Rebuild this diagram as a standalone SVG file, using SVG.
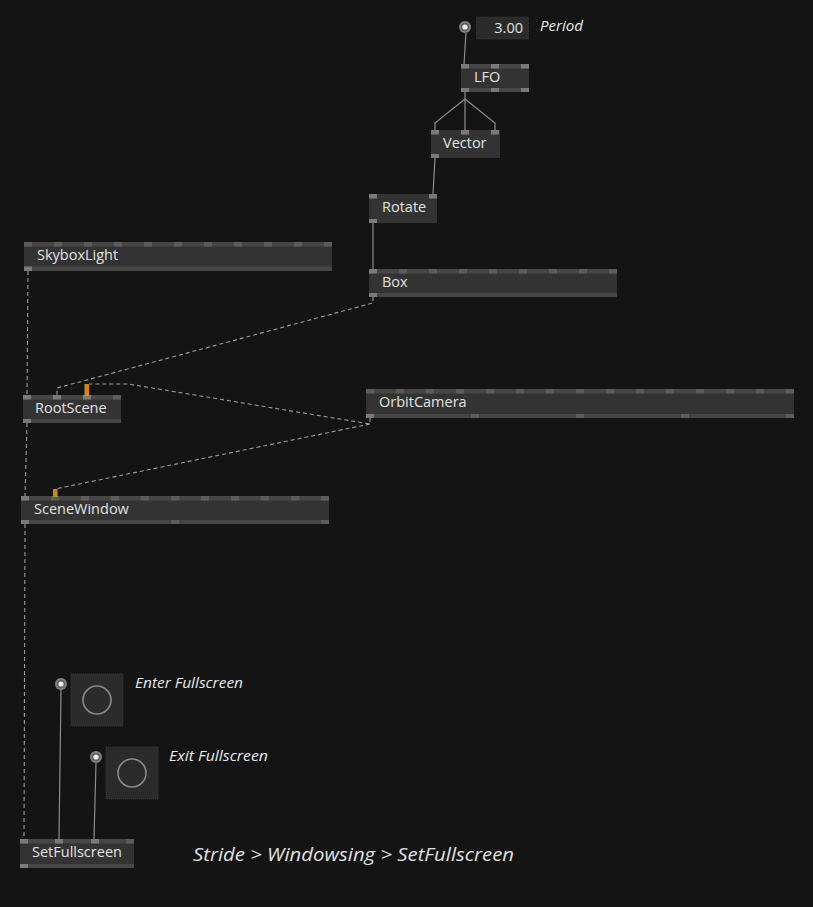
<svg xmlns="http://www.w3.org/2000/svg" width="813" height="907" viewBox="0 0 813 907">
<style>
.bg{fill:#141414}
.body{fill:#333333}
.strip{fill:#464646}
.pin{fill:#5c5c5c}
.pinc{fill:#7a7a7a}
.orange{fill:#d08a10}
.lbl{font-family:"Open Sans","Noto Sans",sans-serif;font-size:14.5px;fill:#e2e2e2}
.cmt{font-family:"Open Sans","Noto Sans",sans-serif;font-style:italic;font-size:15px;fill:#e8e8e8}
.title{font-family:"Open Sans","Noto Sans",sans-serif;font-style:italic;font-size:19px;fill:#e0e0e0}
.val{font-family:"Open Sans","Noto Sans",sans-serif;font-size:14.5px;fill:#e2e2e2}
.link{fill:none;stroke:#8c8c8c;stroke-width:1.2}
.dash{fill:none;stroke:#9a9a9a;stroke-width:1.1;stroke-dasharray:4 3}
.iobox{fill:#2b2b2b;stroke:#3a3a3a;stroke-width:1;stroke-dasharray:1 1}
.btn{fill:none;stroke:#8a8a8a;stroke-width:1.6}
.pout{fill:#808080}
.pmid{fill:#5a5a5a}
.pin-in{fill:#eeeeee}
</style>
<rect class="bg" x="0" y="0" width="813" height="907"/>

<g id="connectors">
  <path class="link" d="M466,33 L464,64"/>
  <path class="link" d="M465,92 L465,99 L435,123 L435,130"/>
  <path class="link" d="M465,99 L465,130"/>
  <path class="link" d="M465,99 L495,123 L495,130"/>
  <path class="link" d="M435,158 L433,194"/>
  <path class="link" d="M373,223 L373,269"/>
  <path class="link" d="M61,690 L59,839"/>
  <path class="link" d="M96,763 L94,839"/>
  <path class="dash" d="M28,271 L27,395"/>
  <path class="dash" d="M27,423 L25,496"/>
  <path class="dash" d="M25,524 L24,839"/>
  <path class="dash" d="M373,297 L373,303 L57,388 L57,395"/>
  <path class="dash" d="M370,418 L370,424 L128,384 L89,384"/>
  <path class="dash" d="M370,424 L55,489"/>
</g>

<g id="period">
  <circle class="pout" cx="465" cy="27" r="6"/>
  <circle class="pmid" cx="465" cy="27" r="4"/>
  <circle class="pin-in" cx="465" cy="27" r="2.6"/>
  <rect class="iobox" x="476.5" y="17" width="52" height="22"/>
  <text class="val" x="523" y="33" text-anchor="end">3.00</text>
  <text class="cmt" x="540" y="31" textLength="43" lengthAdjust="spacingAndGlyphs">Period</text>
</g>

<g id="lfo">
  <rect class="body" x="461" y="64" width="68" height="28"/>
  <rect class="strip" x="461" y="64" width="68" height="4.5"/>
  <rect class="strip" x="461" y="88" width="68" height="4"/>
  <rect class="pinc" x="461" y="64" width="8" height="4.5"/>
  <rect class="pinc" x="491" y="64" width="8" height="4.5"/>
  <rect class="pinc" x="521" y="64" width="8" height="4.5"/>
  <rect class="pinc" x="461" y="88" width="8" height="4"/>
  <rect class="pinc" x="491" y="88" width="8" height="4"/>
  <rect class="pinc" x="521" y="88" width="8" height="4"/>
  <text class="lbl" x="474" y="82">LFO</text>
</g>

<g id="vector">
  <rect class="body" x="431" y="130" width="69" height="28"/>
  <rect class="pinc" x="431" y="130" width="8" height="4.5"/>
  <rect class="pinc" x="461" y="130" width="8" height="4.5"/>
  <rect class="pinc" x="491" y="130" width="8" height="4.5"/>
  <rect class="pinc" x="431" y="154" width="8" height="4"/>
  <text class="lbl" x="443" y="148">Vector</text>
</g>

<g id="rotate">
  <rect class="body" x="369" y="194" width="68" height="29"/>
  <rect class="pinc" x="369" y="194" width="8" height="4.5"/>
  <rect class="pinc" x="429" y="194" width="8" height="4.5"/>
  <rect class="pinc" x="369" y="219" width="8" height="4"/>
  <text class="lbl" x="382" y="212">Rotate</text>
</g>

<g id="box">
  <rect class="body" x="369" y="269" width="248" height="28"/>
  <rect class="strip" x="369" y="269" width="248" height="4.5"/>
  <rect class="strip" x="369" y="293" width="248" height="4"/>
  <rect class="pinc" x="369" y="269" width="8" height="4.5"/>
  <rect class="pin" x="399" y="269" width="8" height="4.5"/>
  <rect class="pin" x="429" y="269" width="8" height="4.5"/>
  <rect class="pin" x="459" y="269" width="8" height="4.5"/>
  <rect class="pin" x="489" y="269" width="8" height="4.5"/>
  <rect class="pin" x="519" y="269" width="8" height="4.5"/>
  <rect class="pin" x="549" y="269" width="8" height="4.5"/>
  <rect class="pin" x="579" y="269" width="8" height="4.5"/>
  <rect class="pin" x="609" y="269" width="8" height="4.5"/>
  <rect class="pinc" x="369" y="293" width="8" height="4"/>
  <text class="lbl" x="382" y="287">Box</text>
</g>

<g id="skyboxlight">
  <rect class="body" x="24" y="242" width="308" height="29"/>
  <rect class="strip" x="24" y="242" width="308" height="4.5"/>
  <rect class="strip" x="24" y="266.5" width="308" height="4.5"/>
  <rect class="pin" x="24" y="242" width="8" height="4.5"/>
  <rect class="pin" x="54" y="242" width="8" height="4.5"/>
  <rect class="pin" x="84" y="242" width="8" height="4.5"/>
  <rect class="pin" x="114" y="242" width="8" height="4.5"/>
  <rect class="pin" x="144" y="242" width="8" height="4.5"/>
  <rect class="pin" x="174" y="242" width="8" height="4.5"/>
  <rect class="pin" x="204" y="242" width="8" height="4.5"/>
  <rect class="pin" x="234" y="242" width="8" height="4.5"/>
  <rect class="pin" x="264" y="242" width="8" height="4.5"/>
  <rect class="pin" x="294" y="242" width="8" height="4.5"/>
  <rect class="pin" x="324" y="242" width="8" height="4.5"/>
  <rect class="pinc" x="24" y="266.5" width="8" height="4.5"/>
  <text class="lbl" x="37" y="260">SkyboxLight</text>
</g>

<g id="rootscene">
  <rect class="body" x="23" y="395" width="98" height="28"/>
  <rect class="strip" x="23" y="395" width="98" height="4.5"/>
  <rect class="strip" x="23" y="419" width="98" height="4"/>
  <rect class="pinc" x="23" y="395" width="8" height="4.5"/>
  <rect class="pinc" x="53" y="395" width="8" height="4.5"/>
  <rect class="pinc" x="83" y="395" width="8" height="4.5"/>
  <rect class="pin" x="113" y="395" width="8" height="4.5"/>
  <rect class="pinc" x="23" y="419" width="8" height="4"/>
  <rect class="orange" x="84.5" y="384" width="4.5" height="12"/>
  <text class="lbl" x="35" y="413">RootScene</text>
</g>

<g id="orbitcamera">
  <rect class="body" x="366" y="389" width="428" height="29"/>
  <rect class="strip" x="366" y="389" width="428" height="4.5"/>
  <rect class="strip" x="366" y="414" width="428" height="4"/>
  <rect class="pin" x="366" y="389" width="8" height="4.5"/>
  <rect class="pin" x="396" y="389" width="8" height="4.5"/>
  <rect class="pin" x="426" y="389" width="8" height="4.5"/>
  <rect class="pin" x="456" y="389" width="8" height="4.5"/>
  <rect class="pin" x="486" y="389" width="8" height="4.5"/>
  <rect class="pin" x="516" y="389" width="8" height="4.5"/>
  <rect class="pin" x="546" y="389" width="8" height="4.5"/>
  <rect class="pin" x="576" y="389" width="8" height="4.5"/>
  <rect class="pin" x="606" y="389" width="8" height="4.5"/>
  <rect class="pin" x="636" y="389" width="8" height="4.5"/>
  <rect class="pin" x="666" y="389" width="8" height="4.5"/>
  <rect class="pin" x="696" y="389" width="8" height="4.5"/>
  <rect class="pin" x="726" y="389" width="8" height="4.5"/>
  <rect class="pin" x="756" y="389" width="8" height="4.5"/>
  <rect class="pin" x="786" y="389" width="8" height="4.5"/>
  <rect class="pinc" x="366" y="414" width="8" height="4"/>
  <rect class="pin" x="471" y="414" width="8" height="4"/>
  <rect class="pin" x="576" y="414" width="8" height="4"/>
  <rect class="pin" x="681" y="414" width="8" height="4"/>
  <rect class="pin" x="786" y="414" width="8" height="4"/>
  <text class="lbl" x="379" y="407">OrbitCamera</text>
</g>

<g id="scenewindow">
  <rect class="body" x="21" y="496" width="308" height="28"/>
  <rect class="strip" x="21" y="496" width="308" height="4.5"/>
  <rect class="strip" x="21" y="520" width="308" height="4"/>
  <rect class="pinc" x="21" y="496" width="8" height="4.5"/>
  <rect class="pin" x="51" y="496" width="8" height="4.5"/>
  <rect class="pin" x="81" y="496" width="8" height="4.5"/>
  <rect class="pin" x="111" y="496" width="8" height="4.5"/>
  <rect class="pin" x="141" y="496" width="8" height="4.5"/>
  <rect class="pin" x="171" y="496" width="8" height="4.5"/>
  <rect class="pin" x="201" y="496" width="8" height="4.5"/>
  <rect class="pin" x="231" y="496" width="8" height="4.5"/>
  <rect class="pin" x="261" y="496" width="8" height="4.5"/>
  <rect class="pin" x="291" y="496" width="8" height="4.5"/>
  <rect class="pin" x="321" y="496" width="8" height="4.5"/>
  <rect class="pinc" x="21" y="520" width="8" height="4"/>
  <rect class="pin" x="171" y="520" width="8" height="4"/>
  <rect class="pin" x="321" y="520" width="8" height="4"/>
  <rect class="orange" x="53" y="489" width="4.5" height="8"/>
  <text class="lbl" x="34" y="514">SceneWindow</text>
</g>

<g id="enter-fullscreen">
  <circle class="pout" cx="61" cy="684" r="6"/>
  <circle class="pmid" cx="61" cy="684" r="4"/>
  <circle class="pin-in" cx="61" cy="684" r="2.6"/>
  <rect class="iobox" x="71" y="674" width="52" height="52"/>
  <circle class="btn" cx="97" cy="700" r="14"/>
  <text class="cmt" x="135" y="688" textLength="108" lengthAdjust="spacingAndGlyphs">Enter Fullscreen</text>
</g>

<g id="exit-fullscreen">
  <circle class="pout" cx="96" cy="757" r="6"/>
  <circle class="pmid" cx="96" cy="757" r="4"/>
  <circle class="pin-in" cx="96" cy="757" r="2.6"/>
  <rect class="iobox" x="106" y="747" width="52" height="52"/>
  <circle class="btn" cx="132" cy="773" r="14"/>
  <text class="cmt" x="169" y="761" textLength="99" lengthAdjust="spacingAndGlyphs">Exit Fullscreen</text>
</g>

<g id="setfullscreen">
  <rect class="body" x="20" y="839" width="114" height="29"/>
  <rect class="strip" x="20" y="839" width="114" height="4.5"/>
  <rect class="strip" x="20" y="864" width="114" height="4"/>
  <rect class="pinc" x="20" y="839" width="8" height="4.5"/>
  <rect class="pinc" x="55" y="839" width="8" height="4.5"/>
  <rect class="pinc" x="91" y="839" width="8" height="4.5"/>
  <rect class="pin" x="126" y="839" width="8" height="4.5"/>
  <rect class="pinc" x="20" y="864" width="8" height="4"/>
  <text class="lbl" x="32" y="857">SetFullscreen</text>
</g>

<g id="title">
  <text class="title" x="193" y="861" textLength="321" lengthAdjust="spacingAndGlyphs">Stride &gt; Windowsing &gt; SetFullscreen</text>
</g>
</svg>
